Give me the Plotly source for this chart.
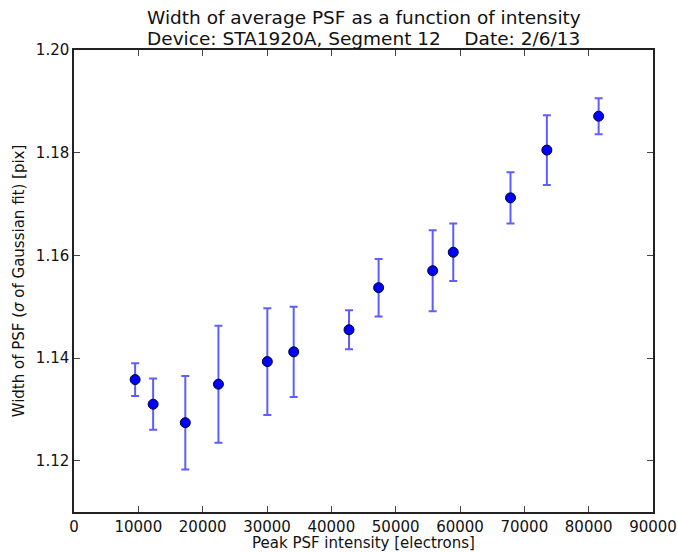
"""
Width of average PSF versus peak intensity, with error bars.
"""

import plotly.graph_objects as go

# Data
intensity = [9500, 12300, 17300, 22450, 30050, 34150, 42750, 47350,
             55750, 58950, 67850, 73500, 81550]
psf_width = [1.1358, 1.1310, 1.1274, 1.1349, 1.1393, 1.1412, 1.1455, 1.1537,
             1.1570, 1.1606, 1.1712, 1.1805, 1.1871]
psf_err = [0.0032, 0.0050, 0.0091, 0.0114, 0.0104, 0.0088, 0.0038, 0.0056,
           0.0079, 0.0056, 0.0050, 0.0068, 0.0035]

x_ticks = [0, 10000, 20000, 30000, 40000, 50000, 60000, 70000, 80000, 90000]
y_ticks = [1.12, 1.14, 1.16, 1.18, 1.20]

title_lines = ["Width of average PSF as a function of intensity",
               "Device: STA1920A, Segment 12    Date: 2/6/13"]

FONT = "DejaVu Sans"

fig = go.Figure(go.Scatter(
    x=intensity,
    y=psf_width,
    mode="markers",
    marker=dict(color="#0000ff", size=10, line=dict(color="#000033", width=1)),
    error_y=dict(type="data", array=psf_err, visible=True,
                 color="rgba(40,40,255,0.75)", thickness=2, width=4),
))

axis_style = dict(
    showline=True, linecolor="#222", linewidth=1.5, mirror="allticks",
    ticks="inside", ticklen=6, tickcolor="#444", showgrid=False, zeroline=False,
    automargin=False,
    tickfont=dict(family=FONT, size=15, color="#111"),
)

# two title lines placed as annotations above the plot
for text, shift in zip(title_lines, [33, 12]):
    fig.add_annotation(text=text, x=0.5, xref="paper", y=1, yref="paper",
                       yanchor="middle", yshift=shift, showarrow=False,
                       font=dict(family=FONT, size=18.5, color="#111"))

fig.update_layout(
    width=678, height=552,
    template="plotly_white",
    plot_bgcolor="white",
    paper_bgcolor="white",
    showlegend=False,
    margin=dict(l=74, r=25, t=50, b=40),
    xaxis=dict(axis_style, range=[0, 90000], tickvals=x_ticks, tickformat="d",
               title=dict(text="Peak PSF intensity [electrons]", standoff=3,
                          font=dict(family=FONT, size=15, color="#111"))),
    yaxis=dict(axis_style, range=[1.11, 1.20], tickvals=y_ticks, tickformat=".2f",
               title=dict(text="Width of PSF (<i>σ</i> of Gaussian fit) [pix]", standoff=8,
                          font=dict(family=FONT, size=15, color="#111"))),
)

fig.write_html("out.html", config={"displayModeBar": False},
               post_script="document.body.style.margin='0';")
